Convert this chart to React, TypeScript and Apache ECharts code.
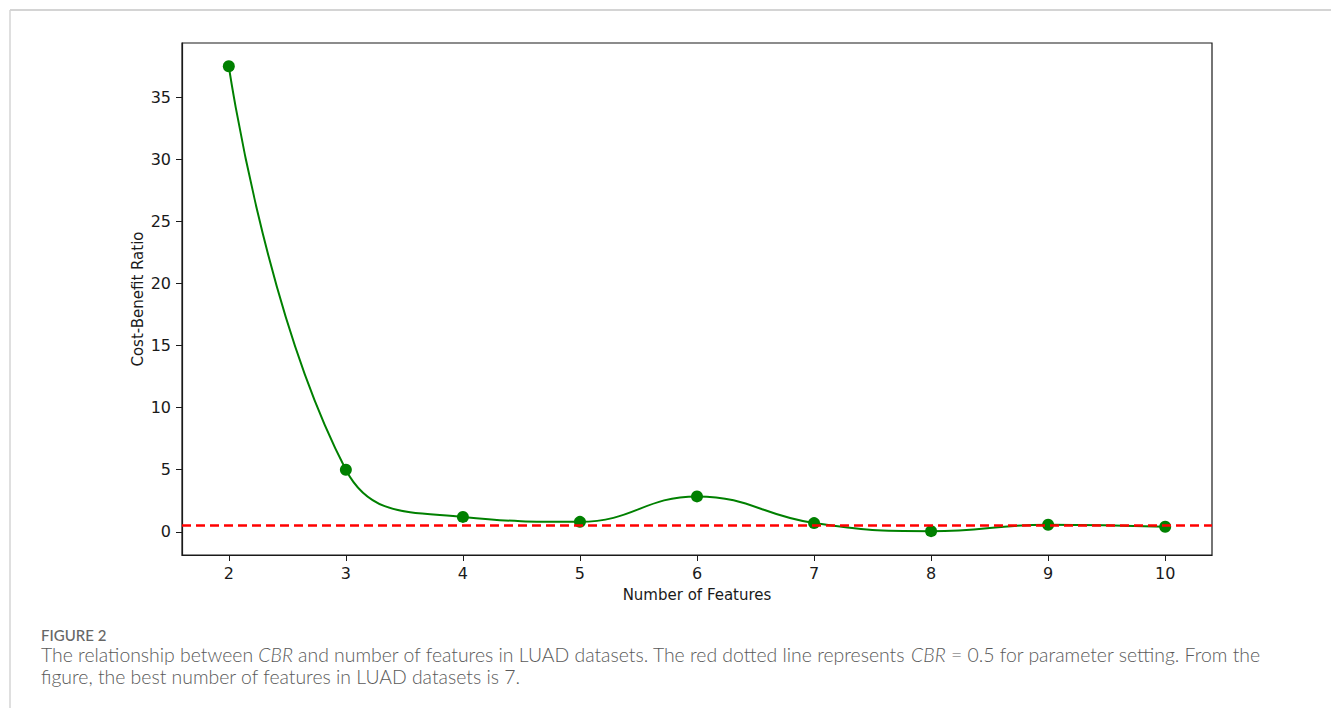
import React, { useEffect, useRef } from "react";
import * as echarts from "echarts";

const featureCounts = [2, 3, 4, 5, 6, 7, 8, 9, 10];
const cbrValues = [37.5, 5.0, 1.2, 0.8, 2.85, 0.7, 0.05, 0.57, 0.4];
const thresholdValue = 0.5;
const xTickValues = [2, 3, 4, 5, 6, 7, 8, 9, 10];
const yTickValues = [0, 5, 10, 15, 20, 25, 30, 35];

const captionLabel = "FIGURE 2";
const captionLine1 =
  "The relationship between {i|CBR} and number of features in LUAD datasets. The red dotted line represents {i|CBR} = 0.5 for parameter setting. From the";
const captionLine2 = "figure, the best number of features in LUAD datasets is 7.";

export default function App() {
  const ref = useRef<HTMLDivElement>(null);
  useEffect(() => {
    if (!ref.current) return;
    const chart = echarts.init(ref.current, null, { renderer: "svg" });
    const tickFont = { fontFamily: "DejaVu Sans", fontSize: 16, color: "#1a1a1a" };
    chart.setOption({
      animation: false,
      backgroundColor: "#ffffff",
      grid: {
        left: 182,
        top: 43,
        width: 1030,
        height: 512,
        show: true,
        borderColor: "#1a1a1a",
        borderWidth: 1.2,
        backgroundColor: "transparent",
      },
      xAxis: {
        type: "value",
        min: 1.6,
        max: 10.4,
        name: "Number of Features",
        nameLocation: "middle",
        nameGap: 32,
        nameMoveOverlap: false,
        nameTextStyle: { fontFamily: "DejaVu Sans", fontSize: 15, color: "#1a1a1a" },
        axisLine: { show: true, onZero: false, lineStyle: { color: "#1a1a1a", width: 1.2 } },
        axisTick: { show: true, length: 6, customValues: xTickValues, lineStyle: { color: "#1a1a1a" } },
        axisLabel: { ...tickFont, margin: 10, customValues: xTickValues },
        splitLine: { show: false },
      },
      yAxis: {
        type: "value",
        min: -1.87,
        max: 39.37,
        name: "Cost-Benefit Ratio",
        nameLocation: "middle",
        nameGap: 37,
        nameMoveOverlap: false,
        nameTextStyle: { fontFamily: "DejaVu Sans", fontSize: 15, color: "#1a1a1a" },
        axisLine: { show: true, onZero: false, lineStyle: { color: "#1a1a1a", width: 1.2 } },
        axisTick: { show: true, length: 6, customValues: yTickValues, lineStyle: { color: "#1a1a1a" } },
        axisLabel: { ...tickFont, margin: 11, customValues: yTickValues },
        splitLine: { show: false },
      },
      series: [
        {
          type: "line",
          data: featureCounts.map((x, i) => [x, cbrValues[i]]),
          smooth: 0.45,
          symbol: "circle",
          symbolSize: 12,
          itemStyle: { color: "#008000" },
          lineStyle: { color: "#008000", width: 2 },
          z: 3,
          markLine: {
            silent: true,
            symbol: "none",
            label: { show: false },
            lineStyle: { color: "#ff0000", type: [9, 5], width: 2.5 },
            data: [{ yAxis: thresholdValue }],
            z: 4,
          },
        },
      ],
      graphic: [
        { type: "line", shape: { x1: 10, y1: 10, x2: 1331, y2: 10 }, style: { stroke: "#d4d4d4", lineWidth: 2 } },
        { type: "line", shape: { x1: 10, y1: 10, x2: 10, y2: 708 }, style: { stroke: "#d4d4d4", lineWidth: 1.5 } },
        {
          type: "text",
          left: 41,
          top: 627,
          style: { text: captionLabel, fontFamily: "Lato", fontSize: 15, fontWeight: 500, fill: "#666666" },
        },
        {
          type: "text",
          left: 41,
          top: 645,
          style: {
            text: captionLine1,
            fontFamily: "Lato",
            fontSize: 19.4,
            fontWeight: 300,
            fill: "#5a5a5a",
            rich: { i: { fontStyle: "italic", fontFamily: "Lato", fontSize: 19.4, fontWeight: 300, fill: "#5a5a5a" } },
          },
        },
        {
          type: "text",
          left: 41,
          top: 667,
          style: { text: captionLine2, fontFamily: "Lato", fontSize: 19.4, fontWeight: 300, fill: "#5a5a5a" },
        },
      ],
    });
    return () => chart.dispose();
  }, []);
  return (
    <div
      ref={ref}
      style={{ position: "fixed", left: 0, top: 0, width: 1331, height: 708 }}
    />
  );
}
